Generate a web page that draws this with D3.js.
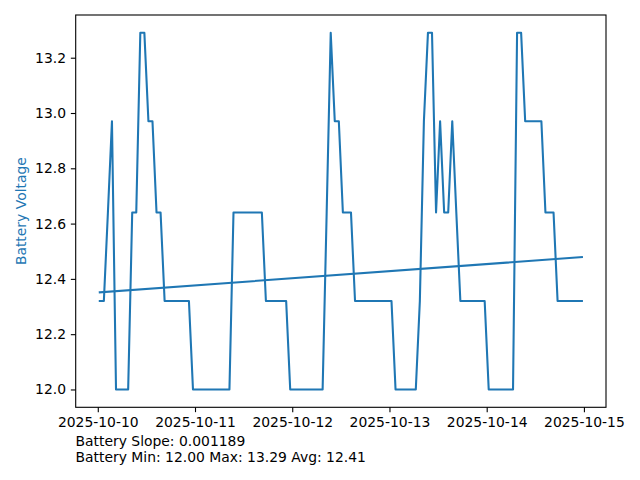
<!DOCTYPE html>
<html>
<head>
<meta charset="utf-8">
<script src="https://cdn.jsdelivr.net/npm/d3@7"></script>
<style>
  html, body { margin: 0; padding: 0; background: #fff; }
  svg { display: block; }
  text { font-family: "DejaVu Sans", sans-serif; }
</style>
</head>
<body>
<svg id="chart" width="640" height="480"></svg>
<script>
// ---- data ----
const startTime = Date.UTC(2025, 9, 10, 0, 30); // first sample
const stepHours = 1;
const voltage = [
  12.32, 12.32, 12.64, 12.97,
  12.00, 12.00, 12.00, 12.00,
  12.64, 12.64,
  13.29, 13.29,
  12.97, 12.97,
  12.64, 12.64,
  12.32, 12.32, 12.32, 12.32, 12.32, 12.32, 12.32,
  12.00, 12.00, 12.00, 12.00, 12.00, 12.00, 12.00, 12.00, 12.00, 12.00,
  12.64, 12.64, 12.64, 12.64, 12.64, 12.64, 12.64, 12.64,
  12.32, 12.32, 12.32, 12.32, 12.32, 12.32,
  12.00, 12.00, 12.00, 12.00, 12.00, 12.00, 12.00, 12.00, 12.00,
  12.64, 13.29,
  12.97, 12.97,
  12.64, 12.64, 12.64,
  12.32, 12.32, 12.32, 12.32, 12.32, 12.32, 12.32, 12.32, 12.32, 12.32,
  12.00, 12.00, 12.00, 12.00, 12.00, 12.00,
  12.32, 12.97, 13.29, 13.29,
  12.64, 12.97, 12.64, 12.64, 12.97, 12.64,
  12.32, 12.32, 12.32, 12.32, 12.32, 12.32, 12.32,
  12.00, 12.00, 12.00, 12.00, 12.00, 12.00, 12.00,
  13.29, 13.29,
  12.97, 12.97, 12.97, 12.97, 12.97,
  12.64, 12.64, 12.64,
  12.32, 12.32, 12.32, 12.32, 12.32, 12.32, 12.32
];
const xTickDates = ["2025-10-10", "2025-10-11", "2025-10-12", "2025-10-13", "2025-10-14", "2025-10-15"];
const yTicks = [12.0, 12.2, 12.4, 12.6, 12.8, 13.0, 13.2];
const yLabel = "Battery Voltage";
const footerLines = ["Battery Slope: 0.001189", "Battery Min: 12.00 Max: 13.29 Avg: 12.41"];

// ---- layout ----
const L = 75.7, R = 606, T = 15, B = 407.3;
const color = "#1f77b4";
const fs = 13.9;

const times = voltage.map((v, i) => new Date(startTime + i * stepHours * 3600000));
const pts = voltage.map((v, i) => ({ t: times[i], v: v, i: i }));

// regression (value vs sample index)
const n = voltage.length;
const mi = d3.mean(pts, d => d.i), mv = d3.mean(voltage);
const slope = d3.sum(pts, d => (d.i - mi) * (d.v - mv)) / d3.sum(pts, d => (d.i - mi) ** 2);
const intercept = mv - slope * mi;
const trend = [pts[0], pts[n - 1]].map(d => ({ t: d.t, v: intercept + slope * d.i }));

// scales with 5% margins like matplotlib
const [t0, t1] = d3.extent(times, d => +d);
const tp = (t1 - t0) * 0.05;
const x = d3.scaleUtc().domain([new Date(t0 - tp), new Date(t1 + tp)]).range([L, R]);
const [v0, v1] = d3.extent(voltage);
const vp = (v1 - v0) * 0.05;
const y = d3.scaleLinear().domain([v0 - vp, v1 + vp]).range([B, T]);

const svg = d3.select("#chart");
svg.append("rect").attr("width", 640).attr("height", 480).attr("fill", "#fff");

const parse = d3.utcParse("%Y-%m-%d");
const fmt = d3.utcFormat("%Y-%m-%d");

// axes
const xAxis = d3.axisBottom(x).tickValues(xTickDates.map(parse)).tickFormat(fmt)
  .tickSize(4.86).tickPadding(4.86).tickSizeOuter(0);
const gx = svg.append("g").attr("transform", `translate(0,${B})`).call(xAxis);
const yAxis = d3.axisLeft(y).tickValues(yTicks).tickFormat(d3.format(".1f"))
  .tickSize(4.86).tickPadding(4.86).tickSizeOuter(0);
const gy = svg.append("g").attr("transform", `translate(${L},0)`).call(yAxis);
[gx, gy].forEach(g => {
  g.select(".domain").remove();
  g.selectAll(".tick line").attr("stroke", "#000").attr("stroke-width", 1.1);
  g.selectAll(".tick text").attr("fill", "#000").style("font-size", fs + "px")
    .style("font-family", "'DejaVu Sans', sans-serif");
});

// lines
const line = d3.line().x(d => x(d.t)).y(d => y(d.v));
const clip = svg.append("clipPath").attr("id", "clip").append("rect")
  .attr("x", L).attr("y", T).attr("width", R - L).attr("height", B - T);
svg.append("path").datum(pts).attr("d", line)
  .attr("fill", "none").attr("stroke", color).attr("stroke-width", 2.08)
  .attr("stroke-linejoin", "round").attr("stroke-linecap", "square");
svg.append("path").datum(trend).attr("d", line)
  .attr("fill", "none").attr("stroke", color).attr("stroke-width", 2.08)
  .attr("stroke-linecap", "square");

// frame
svg.append("rect").attr("x", L).attr("y", T).attr("width", R - L).attr("height", B - T)
  .attr("fill", "none").attr("stroke", "#000").attr("stroke-width", 1.1);

// y label
svg.append("text").attr("transform", `translate(26,${(T + B) / 2}) rotate(-90)`)
  .attr("text-anchor", "middle").attr("fill", color).style("font-size", fs + "px")
  .text(yLabel);

// footer
svg.selectAll("text.footer").data(footerLines).enter().append("text")
  .attr("class", "footer").attr("x", 75.5).attr("y", (d, i) => 446 + i * 16)
  .attr("fill", "#000").style("font-size", fs + "px").text(d => d);
</script>
</body>
</html>
